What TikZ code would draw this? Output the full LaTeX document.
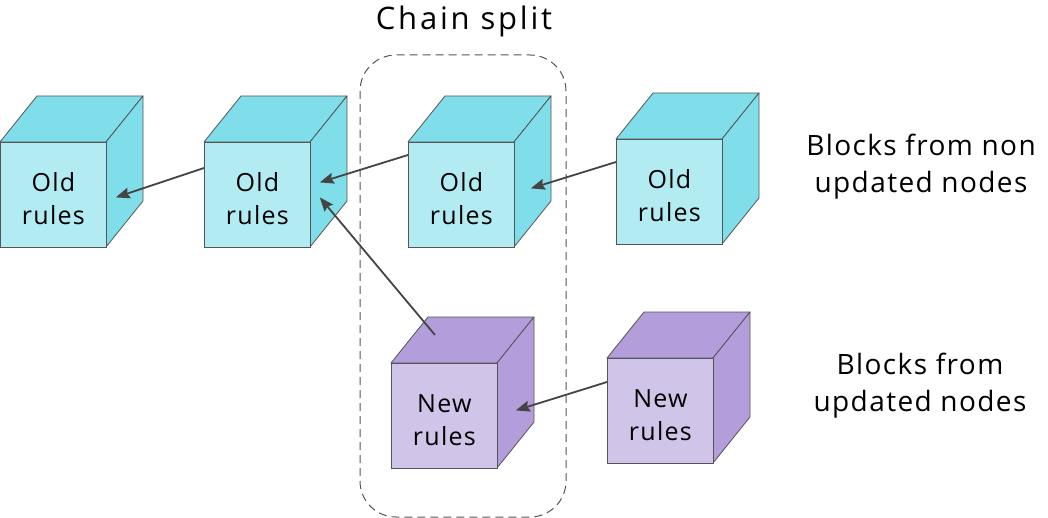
\documentclass[tikz,border=0pt]{standalone}
\usepackage{fontspec}
\setmainfont{Open Sans}
\usetikzlibrary{arrows.meta,calc}
\definecolor{cyanfront}{HTML}{B2EBF2}
\definecolor{cyanside}{HTML}{80DEEA}
\definecolor{purpfront}{HTML}{D1C4E9}
\definecolor{purpside}{HTML}{B39DDB}
\definecolor{edgegray}{HTML}{555555}
\definecolor{arrowgray}{HTML}{444444}
\newcommand\mycube[6]{%
  \filldraw[fill=#5,draw=edgegray,line width=0.8pt,line join=round] (#2,#3) -- ++(37,-46) -- ++(106,0) -- ++(-37,46) -- cycle;
  \filldraw[fill=#5,draw=edgegray,line width=0.8pt,line join=round] ({#2+106},#3) -- ++(37,-46) -- ++(0,105) -- ++(-37,46) -- cycle;
  \node[cubeface,fill=#4] (#1) at (#2,#3) {};
  \node[cubetext] (#1t) at ($(#1.center)+(0,4)$) {#6};
}
\tikzset{
  cubeface/.style={draw=edgegray,line width=0.8pt,anchor=north west,minimum width=106pt,minimum height=105pt,inner sep=0pt},
  cubetext/.style={inner sep=0pt,align=center,font=\fontsize{25}{33}\selectfont\addfontfeature{LetterSpace=5}},
  conn/.style={arrowgray,line width=1.8pt,-{Stealth[length=14pt,width=11pt,inset=2pt]}},
  label/.style={align=center,font=\fontsize{28}{37}\selectfont\addfontfeature{LetterSpace=5}},
  splitbox/.style={draw=edgegray,line width=1pt,dash pattern=on 8pt off 5pt,rounded corners=36pt}
}
\begin{document}
\begin{tikzpicture}[x=1pt,y=-1pt]
\useasboundingbox (0,0) rectangle (1048,518);
\node[font=\fontsize{31}{37}\selectfont\addfontfeature{LetterSpace=9}] (title) at (464,21) {Chain split};
\draw[splitbox] (360,55) rectangle (566,517);
\mycube{c1}{0}{142}{cyanfront}{cyanside}{Old\\rules}
\mycube{c2}{204}{142}{cyanfront}{cyanside}{Old\\rules}
\mycube{c3}{408}{142}{cyanfront}{cyanside}{Old\\rules}
\mycube{c4}{616}{139}{cyanfront}{cyanside}{Old\\rules}
\mycube{c5}{391}{363}{purpfront}{purpside}{New\\rules}
\mycube{c6}{607}{358}{purpfront}{purpside}{New\\rules}
\node[label] (lold) at (921,167) {Blocks from non\\updated nodes};
\node[label] (lnew) at (920,386) {Blocks from\\updated nodes};
\draw[conn] ($(c2.north west)+(0,26)$) -- ($(c1.east)+(9,2.5)$);
\draw[conn] ($(c3.north west)+(0,13)$) -- ($(c2.east)+(9,-12.5)$);
\draw[conn] ($(c5.north west)+(44,-28)$) -- ($(c2.east)+(9,2.5)$);
\draw[conn] ($(c4.north west)+(0,23)$) -- ($(c3.east)+(16,-6.5)$);
\draw[conn] ($(c6.north west)+(0,24)$) -- ($(c5.east)+(18,-5.5)$);
\end{tikzpicture}
\end{document}
